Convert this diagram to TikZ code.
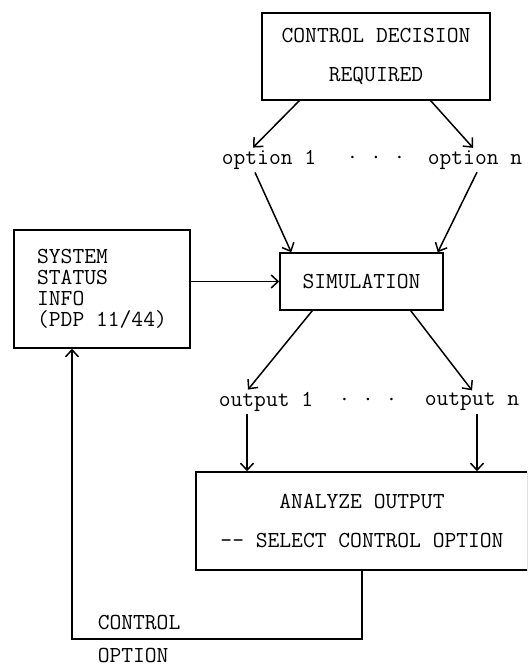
\documentclass[tikz,border=0pt]{standalone}
\usepackage{fontspec}
\usepackage{tikz}
\usetikzlibrary{arrows.meta, positioning, calc}

\begin{document}
\begin{tikzpicture}[x=1pt, y=-1pt, line width=1.5pt,
    box/.style={rectangle, draw, inner sep=0pt, font=\ttfamily\fontsize{22.9}{22.9}\selectfont},
    lbl/.style={inner sep=2pt, font=\ttfamily\fontsize{22.9}{22.9}\selectfont},
    arr/.style={-{Straight Barb[length=7pt, width=13pt, line width=1.5pt]}}]
    \clip (0,0) rectangle (527,668);

    % 上方决策框
    \node[box, minimum width=228, minimum height=87, align=center] (decision) at (376,56.5) {CONTROL DECISION\\[17pt]REQUIRED};

    % 控制选项
    \node[lbl] (opt1) at (269,160) {option 1};
    \node[lbl] (optdots) at (376,160) {· · ·};
    \node[lbl] (optn) at (475,160) {option n};
    \draw[arr] ([xshift=38pt]decision.south west) -- ([xshift=-16pt]opt1.north);
    \draw[arr] ([xshift=-60pt]decision.south east) -- ([xshift=-2pt]optn.north);

    % 仿真与系统状态
    \node[box, minimum width=163, minimum height=57] (sim) at (361.5,281.5) {SIMULATION};
    \node[box, minimum width=176, minimum height=118, align=left] (status) at (102,289) {SYSTEM\\[-2pt]STATUS\\[-2pt]INFO\\[-2pt](PDP 11/44)};
    \draw[arr] ([xshift=-14pt]opt1.south) -- ([xshift=12pt]sim.north west);
    \draw[arr] ([xshift=2pt]optn.south) -- ([xshift=-6pt]sim.north east);
    \draw[arr] (status.east |- sim.west) -- (sim.west);

    % 输出
    \node[lbl] (out1) at (266,402) {output 1};
    \node[lbl] (outdots) at (368,402) {· · ·};
    \node[lbl] (outn) at (472,402) {output n};
    \draw[arr] ([xshift=33pt]sim.south west) -- ([xshift=-18pt]out1.north);
    \draw[arr] ([xshift=-33pt]sim.south east) -- (outn.north);

    % 分析输出
    \node[box, minimum width=332, minimum height=98, align=center] (analyze) at (362,521) {ANALYZE OUTPUT\\[17pt]-- SELECT CONTROL OPTION};
    \draw[arr] ([xshift=-19pt]out1.south) -- ([xshift=-19pt]out1.south |- analyze.north);
    \draw[arr] ([xshift=5pt]outn.south) -- ([xshift=5pt]outn.south |- analyze.north);

    % 反馈回路
    \coordinate (fb) at (72,639);
    \draw[arr] (analyze.south) |- (fb) -- (fb |- status.south);
    \node[lbl, anchor=west] (ctrl) at (95,622) {CONTROL};
    \node[lbl, anchor=west, inner sep=0pt] (opt) at (97,655) {OPTION};
\end{tikzpicture}
\end{document}
